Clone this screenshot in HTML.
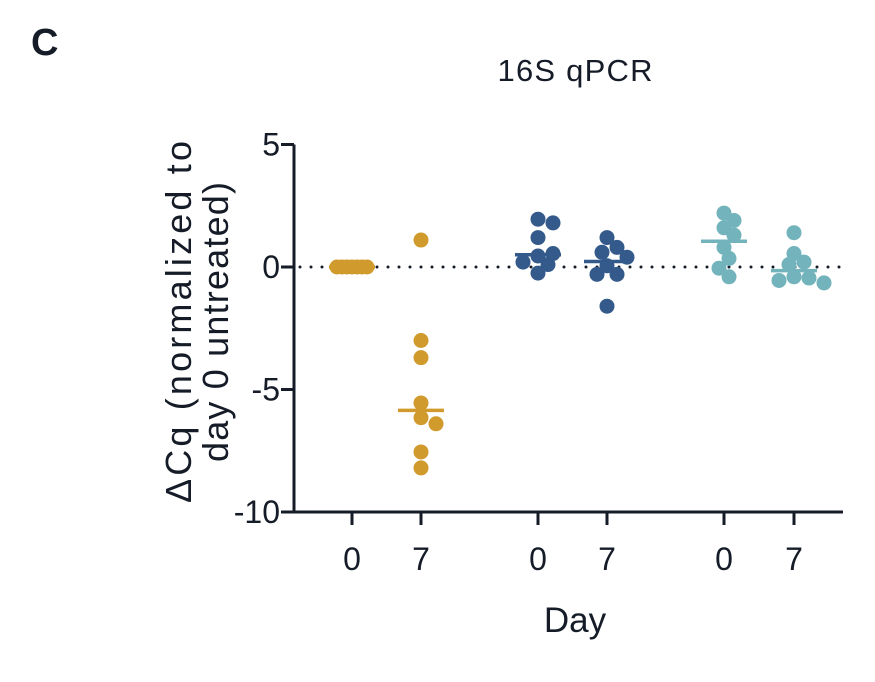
<!DOCTYPE html>
<html><head><meta charset="utf-8"><style>
body{margin:0;background:#fff;width:875px;height:677px;overflow:hidden}
svg text{font-family:"Liberation Sans","DejaVu Sans",sans-serif;fill:#151c28}
</style></head><body>
<svg id="chart" width="875" height="677" viewBox="0 0 875 677">
<text x="31" y="55" font-size="38" font-weight="bold">C</text>
<text x="575" y="81" font-size="31" text-anchor="middle" textLength="155">16S qPCR</text>
<g id="plot"></g>
<text transform="translate(198,322) rotate(-90)" font-size="36" text-anchor="middle"><tspan x="0" dy="-7" textLength="362">ΔCq (normalized to</tspan><tspan x="0" dy="37" textLength="280">day 0 untreated)</tspan></text>
<text x="575" y="632" font-size="35" text-anchor="middle">Day</text>
</svg>
<script>
const categories=["0","7","0","7","0","7"];
const groupColors=["#d09a2c","#d09a2c","#335a8a","#335a8a","#72b3bc","#72b3bc"];
const series0=[0,0,0,0,0,0,0];
const series1=[1.1,-3.0,-3.7,-5.55,-6.15,-6.4,-7.55,-8.2];
const series2=[1.95,1.8,1.2,0.45,0.55,0.1,0.2,-0.25];
const series3=[1.2,0.8,0.6,0.4,0.05,-0.3,-0.3,-1.6];
const series4=[2.2,1.9,1.6,1.3,0.8,0.35,-0.05,-0.4];
const series5=[1.4,0.55,0.2,0.1,-0.4,-0.45,-0.55,-0.65];
const yTicks=[5,0,-5,-10];
const allSeries=[series0,series1,series2,series3,series4,series5];
const NS="http://www.w3.org/2000/svg";
const g=document.getElementById('plot');
const catX=[352,421,538,607,724,794];
function y(v){return 267-(v)*24.5;}
function x(i){return catX[i];}
function mk(t,a){const e=document.createElementNS(NS,t);for(const k in a)e.setAttribute(k,a[k]);g.appendChild(e);return e;}
let zl=mk('line',{x1:300,x2:843,y1:y(0),y2:y(0),stroke:'#151c28','stroke-width':3,'stroke-dasharray':'0 11','stroke-linecap':'round'});


function clash(p,c,py){const dx=Math.abs(p[0]-c),dy=Math.abs(p[1]-py);if(dy<1)return dx<5;return Math.hypot(dx,dy)<12;}
allSeries.forEach((s,i)=>{
  const placed=[];
  s.forEach(v=>{
    const py=y(v);let off=0;
    for(let k=0;k<60;k++){
      const c=(k%2?1:-1)*Math.ceil(k/2)*5;
      if(!placed.some(p=>clash(p,c,py))){off=c;break;}
    }
    placed.push([off,py]);
    const c=mk('circle',{cx:x(i)+off,cy:py,r:7.5,fill:groupColors[i]});
    
    
  });
  const so=[...s].sort((a,b)=>a-b);const n=so.length;
  const med=n%2?so[(n-1)/2]:(so[n/2-1]+so[n/2])/2;
  const m=mk('line',{x1:x(i)-23,x2:x(i)+23,y1:y(med),y2:y(med),stroke:groupColors[i],'stroke-width':3.5});
  
  
});
let ya=mk('line',{x1:294,x2:294,y1:y(5),y2:y(-10)+1.5,stroke:'#151c28','stroke-width':3});


let xa=mk('line',{x1:292.5,x2:843,y1:y(-10),y2:y(-10),stroke:'#151c28','stroke-width':3});


yTicks.forEach(t=>{
  const l=mk('line',{x1:281,x2:294,y1:y(t),y2:y(t),stroke:'#151c28','stroke-width':3});
  
  
  const tx=mk('text',{x:280,y:y(t)+11,'font-size':32,'text-anchor':'end'});
  tx.textContent=t;
  
  
});
categories.forEach((c,i)=>{
  const l=mk('line',{x1:x(i),x2:x(i),y1:y(-10),y2:y(-10)+13,stroke:'#151c28','stroke-width':3});
  
  
  const tx=mk('text',{x:x(i),y:570,'font-size':32,'text-anchor':'middle'});
  tx.textContent=c;
  
  
});
</script>
</body></html>
